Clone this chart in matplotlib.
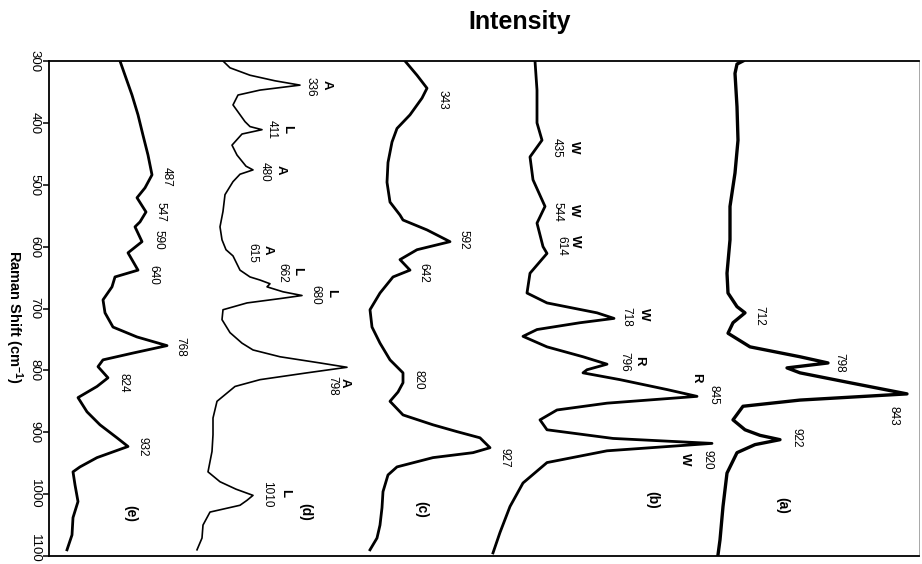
import matplotlib
matplotlib.use('Agg')
import matplotlib.pyplot as plt
from matplotlib.transforms import ScaledTranslation

plt.rcParams['font.family'] = ['Liberation Sans', 'DejaVu Sans']
plt.rcParams['mathtext.fontset'] = 'custom'
plt.rcParams['mathtext.rm'] = 'Liberation Sans:bold'
plt.rcParams['mathtext.default'] = 'rm'

# Spectra (Raman shift in cm-1, intensity in stacked arbitrary units)
shift_a = [300, 305, 320, 374, 428, 481, 535, 589, 643, 675, 697, 707, 723, 740, 762, 778, 788, 796,
           804, 820, 838, 848, 858, 880, 896, 905, 912, 920, 933, 966, 1020, 1074, 1098]
int_a = [694, 688, 686, 688, 689, 686, 681, 681, 678, 679, 688, 696, 684, 679, 701, 751, 779, 738,
         751, 801, 858, 751, 694, 684, 696, 711, 731, 706, 688, 678, 674, 671, 669]

shift_b = [300, 347, 400, 428, 455, 492, 535, 562, 600, 611, 643, 675, 691, 707, 716, 723, 734, 745,
           762, 778, 790, 799, 804, 815, 831, 842, 853, 864, 880, 896, 910, 918, 930, 949, 982, 1020,
           1062, 1095]
int_b = [486, 488, 488, 493, 481, 484, 496, 488, 494, 498, 481, 478, 498, 548, 565, 531, 488, 474,
         498, 534, 558, 538, 534, 571, 618, 648, 558, 508, 491, 498, 564, 663, 558, 498, 474, 461,
         451, 444]

shift_c = [300, 323, 344, 360, 387, 409, 431, 464, 496, 528, 549, 557, 573, 592, 605, 621, 638, 649,
           675, 702, 730, 756, 783, 804, 820, 835, 850, 872, 888, 899, 909, 925, 933, 941, 956, 969,
           996, 1022, 1050, 1071, 1090]
int_c = [356, 368, 378, 373, 361, 348, 343, 339, 338, 341, 351, 354, 378, 401, 368, 351, 361, 344,
         331, 321, 323, 331, 341, 354, 354, 349, 341, 354, 384, 408, 431, 441, 424, 384, 348, 339,
         334, 333, 331, 328, 321]

shift_d = [300, 311, 323, 332, 339, 347, 355, 371, 398, 406, 411, 418, 436, 452, 470, 476, 483, 495,
           516, 543, 568, 589, 605, 615, 638, 649, 654, 660, 665, 673, 679, 684, 691, 702, 718, 739,
           756, 767, 778, 788, 795, 804, 815, 826, 850, 877, 904, 931, 964, 980, 992, 1002, 1010, 1018,
           1029, 1050, 1071, 1090]
int_d = [174, 181, 201, 226, 251, 211, 189, 184, 196, 201, 213, 193, 183, 188, 197, 204, 191, 184,
         176, 174, 171, 173, 177, 184, 191, 201, 211, 221, 218, 234, 253, 231, 198, 174, 173, 181,
         193, 204, 231, 271, 298, 258, 211, 186, 168, 164, 164, 163, 159, 171, 187, 204, 198, 191,
         161, 154, 153, 148]

shift_e = [300, 323, 355, 387, 420, 452, 484, 505, 521, 544, 560, 568, 592, 610, 638, 649, 665, 686,
           707, 730, 746, 760, 772, 783, 794, 812, 826, 844, 867, 888, 909, 923, 941, 956, 964, 985,
           1012, 1038, 1066, 1090]
int_e = [71, 76, 83, 89, 94, 99, 103, 96, 88, 97, 91, 86, 93, 79, 89, 66, 63, 54,
         56, 64, 88, 118, 84, 54, 49, 59, 48, 29, 38, 51, 68, 79, 48, 31, 24, 26,
         29, 24, 23, 18]

# peak labels
peaks_a = ['712', '798', '843', '922']
peaks_b = ['435', '544', '614', '718', '796', '845', '920']
letters_b = ['W', 'W', 'W', 'W', 'R', 'R', 'W']
peaks_c = ['343', '592', '642', '820', '927']
peaks_d = ['336', '411', '480', '615', '662', '680', '798', '1010']
letters_d = ['A', 'L', 'A', 'A', 'L', 'L', 'A', 'L']
peaks_e = ['487', '547', '590', '640', '768', '824', '932']
panel_names = ['(a)', '(b)', '(c)', '(d)', '(e)']

# label positions (intensity, shift)
pos_a = [(710, 712), (790, 788), (844, 873), (747, 909)]
pos_b = [(508, 441), (508, 544), (512, 599), (577, 714), (575, 786), (664, 840), (658, 945)]
pos_b_let = [(525, 439), (525, 541), (526, 591), (595, 710), (590, 785), (647, 812), (636, 943)]
pos_c = [(394, 363), (414, 589), (374, 642), (369, 815), (455, 941)]
pos_d = [(262, 342), (223, 411), (216, 479), (203, 610), (233, 643), (266, 678), (283, 825), (218, 1001)]
pos_d_let = [(278, 339), (238, 410), (232, 476), (219, 605), (248, 639), (282, 675), (296, 820), (236, 998)]
pos_e = [(118, 487), (111, 544), (109, 589), (104, 646), (131, 762), (74, 820), (93, 924)]
pos_panel = [(733, 1019), (603, 1010), (372, 1025), (256, 1029), (81, 1032)]

fig = plt.figure(figsize=(9.22, 5.64), dpi=100)
ax = fig.add_axes([49 / 922, 8 / 564, 870 / 922, 495 / 564])

ax.plot(int_a, shift_a, color='black', lw=2.4, solid_joinstyle='round')
ax.plot(int_b, shift_b, color='black', lw=2.0, solid_joinstyle='round')
ax.plot(int_c, shift_c, color='black', lw=2.0, solid_joinstyle='round')
ax.plot(int_d, shift_d, color='black', lw=1.2, solid_joinstyle='round')
ax.plot(int_e, shift_e, color='black', lw=2.0, solid_joinstyle='round')

ax.set_xlim(0, 870)
ax.set_ylim(1100, 300)
ax.set_yticks(range(300, 1101, 100))
ax.set_xticks([])
ax.tick_params(axis='y', direction='out', length=4, width=1.1, pad=2, labelsize=9.5, labelrotation=-90)
for lbl in ax.get_yticklabels():
    lbl.set_va('center')
# nudge the last tick label up so it stays inside the figure
last = ax.get_yticklabels()[-1]
last.set_transform(last.get_transform() + ScaledTranslation(0, 0.08, fig.dpi_scale_trans))

for side in ['left', 'top', 'bottom']:
    ax.spines[side].set_linewidth(1.3)
ax.spines['right'].set_linewidth(0.6)
ax.spines['right'].set_color('#999999')

# peak numbers
for txts, pos in [(peaks_a, pos_a), (peaks_b, pos_b), (peaks_c, pos_c), (peaks_d, pos_d), (peaks_e, pos_e)]:
    for t, (x, s) in zip(txts, pos):
        ax.text(x, s, t, rotation=-90, ha='center', va='center', fontsize=8.5)

# band assignment letters
for txts, pos in [(letters_b, pos_b_let), (letters_d, pos_d_let)]:
    for t, (x, s) in zip(txts, pos):
        ax.text(x, s, t, rotation=-90, ha='center', va='center', fontsize=9.5, fontweight='bold')

for t, (x, s) in zip(panel_names, pos_panel):
    ax.text(x, s, t, rotation=-90, ha='center', va='center', fontsize=10, fontweight='bold')

fig.text(520 / 922, 1 - 22 / 564, 'Intensity', ha='center', va='center', fontsize=18, fontweight='bold')
fig.text(14 / 922, 1 - 317 / 564, 'Raman Shift (cm$^{-1}$)', rotation=-90, ha='center', va='center',
         fontsize=10.5, fontweight='bold')

fig.savefig('out.png', dpi=100)
